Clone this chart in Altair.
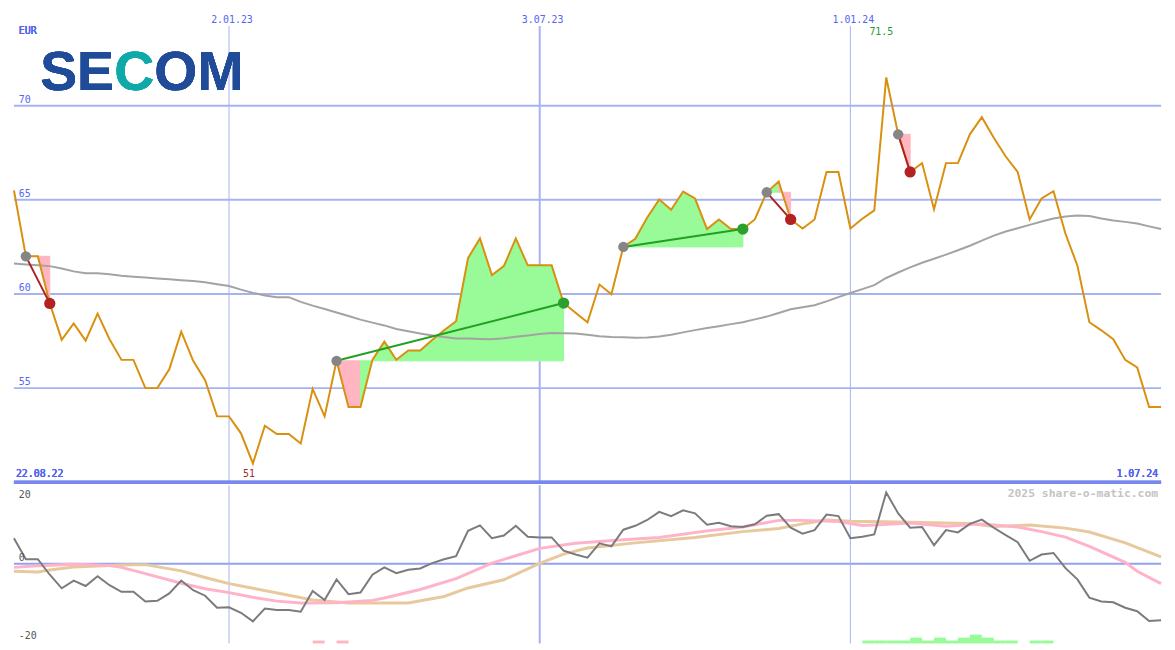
import altair as alt
import pandas as pd

# ---------------- data ----------------
START = "2022-08-29"
price = [65.5, 62.0, 62.0, 59.5, 57.56, 58.44, 57.52, 58.96, 57.6, 56.5,
         56.5, 55.0, 55.0, 56.0, 58.0, 56.45, 55.42, 53.5, 53.5, 52.6,
         51.0, 53.0, 52.56, 52.56, 52.06, 54.96, 53.5, 56.45, 54.0, 54.0,
         56.5, 57.47, 56.5, 57.0, 57.0, 57.56, 58.07, 58.55, 61.9, 62.95,
         61.0, 61.48, 62.95, 61.52, 61.52, 61.52, 59.52, 59.0, 58.5, 60.5,
         59.98, 62.5, 62.93, 64.06, 65.02, 64.47, 65.44, 65.07, 63.45, 63.96,
         63.45, 63.45, 63.96, 65.4, 65.97, 63.96, 63.48, 63.96, 66.48, 66.48,
         63.48, 64.0, 64.44, 71.5, 68.48, 66.48, 66.95, 64.5, 66.95, 66.95,
         68.48, 69.39, 68.3, 67.3, 66.48, 63.96, 65.07, 65.46, 63.2, 61.5,
         58.5, 58.07, 57.6, 56.5, 56.1, 54.0, 54.0]
ma = [61.62, 61.57, 61.53, 61.48, 61.35, 61.2, 61.1, 61.1, 61.05, 60.97,
      60.92, 60.87, 60.82, 60.78, 60.73, 60.69, 60.62, 60.52, 60.42, 60.23,
      60.06, 59.92, 59.83, 59.83, 59.58, 59.38, 59.2, 59.02, 58.83, 58.64,
      58.48, 58.33, 58.14, 58.02, 57.9, 57.8, 57.71, 57.64, 57.63, 57.61,
      57.6, 57.65, 57.73, 57.8, 57.87, 57.93, 57.92, 57.9, 57.83, 57.76,
      57.72, 57.7, 57.68, 57.69, 57.74, 57.83, 57.96, 58.08, 58.19, 58.29,
      58.4, 58.5, 58.65, 58.8, 58.99, 59.19, 59.3, 59.4, 59.61, 59.83,
      60.05, 60.26, 60.47, 60.85, 61.14, 61.41, 61.66, 61.87, 62.09, 62.32,
      62.56, 62.83, 63.1, 63.32, 63.49, 63.67, 63.85, 64.01, 64.11, 64.17,
      64.14, 64.01, 63.9, 63.83, 63.74, 63.59, 63.45]
osc = [6.6, 1.2, 1.2, -2.8, -6.3, -4.3, -5.7, -3.2, -5.5, -7.2,
       -7.2, -9.7, -9.5, -7.6, -4.3, -6.8, -8.2, -11.3, -11.2, -12.6,
       -14.8, -11.5, -11.9, -11.9, -12.3, -7.0, -9.3, -4.0, -7.8, -7.4,
       -2.8, -0.9, -2.4, -1.5, -1.2, 0.2, 1.2, 2.0, 8.5, 9.9,
       6.6, 7.3, 9.8, 7.0, 6.8, 6.8, 3.4, 2.4, 1.6, 5.3,
       4.5, 8.8, 9.8, 11.3, 13.4, 12.3, 13.8, 13.0, 10.1, 10.6,
       9.7, 9.5, 10.2, 12.4, 12.8, 9.3, 7.8, 8.7, 12.7, 12.3,
       6.6, 7.0, 7.6, 18.4, 13.0, 9.3, 9.5, 4.8, 8.7, 8.1,
       10.3, 11.4, 9.3, 7.4, 5.6, 0.8, 2.4, 2.8, -1.1, -4.0,
       -8.7, -9.7, -9.9, -11.3, -12.2, -14.7, -14.5]
pink_wk = [0, 2, 5, 8, 9, 11, 14, 16, 18, 20, 22, 24, 27, 30, 31, 34, 37, 40, 42, 44,
           47, 51, 54, 58, 61, 64, 66, 69, 71, 72, 75, 78, 81, 84, 86, 88, 90, 93, 94, 96]
pink_val = [-0.9, -0.5, -0.1, -0.4, -0.9, -2.5, -5.0, -6.4, -7.4, -8.6, -9.6, -10.1, -10.0,
            -9.4, -8.8, -6.6, -3.8, 0.2, 2.1, 4.0, 5.3, 6.2, 6.8, 8.5, 9.5, 11.2, 11.2, 10.9,
            9.9, 10.0, 10.5, 9.7, 10.3, 9.5, 8.3, 6.9, 4.5, 0.4, -1.9, -5.1]
tan_wk = [0, 2, 3, 5, 9, 11, 14, 16, 18, 20, 23, 25, 28, 33, 36, 38, 41, 44, 46, 48,
          52, 57, 61, 64, 66, 68, 70, 74, 80, 82, 85, 88, 90, 93, 96]
tan_val = [-1.9, -2.1, -1.6, -0.8, -0.3, -0.2, -1.8, -3.5, -5.1, -6.3, -8.1, -9.3, -10.1,
           -10.1, -8.4, -6.2, -4.1, 0.1, 2.5, 4.1, 5.4, 6.8, 8.3, 9.1, 10.3, 11.3, 11.0,
           10.8, 10.4, 9.6, 10.0, 9.2, 8.2, 5.4, 1.8]
entry_idx = [1, 27, 51, 63, 74]
exit_idx = [3, 46, 61, 65, 75]
bar_wk = [25, 27, 71, 72, 73, 74, 75, 76, 77, 78, 79, 80, 81, 82, 83, 85, 86]
bar_h = [0.75, 0.75, 0.75, 0.75, 0.75, 0.75, 1.5, 0.75, 1.5, 0.75, 1.5, 2.25, 1.5,
         0.75, 0.75, 0.75, 0.75]
bar_kind = ["loss", "loss"] + ["gain"] * 15
tick_dates = ["2023-01-02", "2023-07-03", "2024-01-01"]
tick_labels = ["2.01.23", "3.07.23", "1.01.24"]
tick_width = [1, 2, 1]
price_ticks = [55, 60, 65, 70]
osc_ticks_low = [0, -20]
first_label, last_label = "22.08.22", "1.07.24"

# ---------------- layout ----------------
W, H1, H2 = 1160, 476, 160
sx, syT, syB = W / 1175, H1 / 487, H2 / 163
FONT = "DejaVu Sans Mono"
BLUE = "#5566ee"
GRID = "#a6b2f2"
SEP = "#7788ee"
FILL = {"gain": "#98fb98", "loss": "#ffb6c1"}
TLINE = {"gain": "#22a022", "loss": "#a82424"}
DOT = {"gain": "#2ca02c", "loss": "#b22222"}

t0 = pd.Timestamp(START)
dstr = list(pd.date_range(START, periods=len(price), freq="7D").strftime("%Y-%m-%d"))


def wk(w):
    return (t0 + pd.Timedelta(days=7 * w)).strftime("%Y-%m-%d")


xscale = alt.Scale(domain=[alt.DateTime(year=2022, month=8, date=29, utc=True),
                           alt.DateTime(year=2024, month=7, date=1, utc=True)])


def X(f):
    return alt.X(f, type="temporal", scale=xscale, axis=None)


yT = alt.Scale(domain=[50, 75])
yB = alt.Scale(domain=[-20.5, 20.25])

df = pd.DataFrame({"date": dstr, "price": price, "ma": ma, "osc": osc})
ticks = pd.DataFrame({"date": tick_dates, "label": tick_labels, "w": tick_width})
pticks = pd.DataFrame({"v": price_ticks, "label": [str(v) for v in price_ticks]})

seg_rows, tr_rows, ent_rows, ex_rows = [], [], [], []
for t, (a, b) in enumerate(zip(entry_idx, exit_idx)):
    e = price[a]
    for j in range(a, b):
        cls = "gain" if price[j + 1] >= e else "loss"
        sid = f"{t}_{j}"
        seg_rows.append(dict(date=dstr[j], p=price[j], e=e, seg=sid, col=FILL[cls]))
        seg_rows.append(dict(date=dstr[j + 1], p=price[j + 1], e=e, seg=sid, col=FILL[cls]))
    cls = "gain" if price[b] > e else "loss"
    tr_rows.append(dict(date=dstr[a], p=e, trade=t, col=TLINE[cls]))
    tr_rows.append(dict(date=dstr[b], p=price[b], trade=t, col=TLINE[cls]))
    ent_rows.append(dict(date=dstr[a], p=e))
    ex_rows.append(dict(date=dstr[b], p=price[b], col=DOT[cls]))
segs = pd.DataFrame(seg_rows)
trades = pd.DataFrame(tr_rows)
entries = pd.DataFrame(ent_rows)
exits = pd.DataFrame(ex_rows)

imax = max(range(len(price)), key=lambda i: price[i])
imin = min(range(len(price)), key=lambda i: price[i])
mm_max = pd.DataFrame({"date": [dstr[imax]], "label": [f"{price[imax]:g}"]})
mm_min = pd.DataFrame({"date": [dstr[imin]], "label": [f"{price[imin]:g}"]})

# ---------------- top panel ----------------
hgrid = alt.Chart(pticks).mark_rule(color=GRID, strokeWidth=2).encode(
    y=alt.Y("v:Q", scale=yT, axis=None))
vgrid = alt.Chart(ticks).mark_rule(color=GRID).encode(
    x=X("date"), y=alt.value(15 * syT), y2=alt.value(H1),
    strokeWidth=alt.StrokeWidth("w:Q", scale=None, legend=None))
sep = alt.Chart(pticks).mark_rule(color=SEP, strokeWidth=3).encode(
    y=alt.value(H1), x=alt.value(0), x2=alt.value(W))
fills = alt.Chart(segs).mark_area(opacity=1, strokeWidth=1).encode(
    x=X("date"), y=alt.Y("p:Q", scale=yT, axis=None), y2="e:Q",
    detail="seg:N", color=alt.Color("col:N", scale=None),
    stroke=alt.Stroke("col:N", scale=None))
ma_line = alt.Chart(df).mark_line(color="#a3a3a3", strokeWidth=2).encode(
    x=X("date"), y=alt.Y("ma:Q", scale=yT, axis=None))
p_line = alt.Chart(df).mark_line(color="#d9900f", strokeWidth=2).encode(
    x=X("date"), y=alt.Y("price:Q", scale=yT, axis=None))
tr_lines = alt.Chart(trades).mark_line(strokeWidth=2).encode(
    x=X("date"), y=alt.Y("p:Q", scale=yT, axis=None), detail="trade:N",
    color=alt.Color("col:N", scale=None))
ent_dots = alt.Chart(entries).mark_circle(size=110, opacity=1, color="#858585").encode(
    x=X("date"), y=alt.Y("p:Q", scale=yT, axis=None))
ex_dots = alt.Chart(exits).mark_circle(size=130, opacity=1).encode(
    x=X("date"), y=alt.Y("p:Q", scale=yT, axis=None),
    color=alt.Color("col:N", scale=None))

txt = dict(font=FONT, fontSize=10)
plabels = alt.Chart(pticks).mark_text(align="left", baseline="bottom", dy=-1, color=BLUE, **txt).encode(
    x=alt.value(5 * sx), y=alt.Y("v:Q", scale=yT, axis=None), text="label:N")
dlabels = alt.Chart(ticks).mark_text(align="center", baseline="middle", dx=3, color=BLUE, **txt).encode(
    x=X("date"), y=alt.value(9 * syT), text="label:N")
eur = alt.Chart(pticks).mark_text(align="left", baseline="middle", color=BLUE, text="EUR", **txt).encode(
    x=alt.value(5 * sx), y=alt.value(20 * syT))
first_t = alt.Chart(pticks).mark_text(align="left", baseline="middle", color=BLUE, text=first_label, **txt).encode(
    x=alt.value(2), y=alt.value(478 * syT))
last_t = alt.Chart(pticks).mark_text(align="right", baseline="middle", color=BLUE, text=last_label, **txt).encode(
    x=alt.value(W - 3), y=alt.value(478 * syT))
max_t = alt.Chart(mm_max).mark_text(align="center", baseline="middle", dx=-5, color="#2a9a2a", **txt).encode(
    x=X("date"), y=alt.value(21 * syT), text="label:N")
min_t = alt.Chart(mm_min).mark_text(align="center", baseline="middle", dx=-4, color="#a52a2a", **txt).encode(
    x=X("date"), y=alt.value(478 * syT), text="label:N")

logo = dict(font="Liberation Sans", fontWeight="bold", fontSize=56, baseline="alphabetic")
logo_layers = [
    alt.Chart(pticks).mark_text(text="SE", color="#1f4b99", align="right", **logo).encode(
        x=alt.value(102.5 * sx), y=alt.value(81 * syT)),
    alt.Chart(pticks).mark_text(text="C", color="#0fa9a9", align="center", **logo).encode(
        x=alt.value(123.2 * sx), y=alt.value(81 * syT)),
    alt.Chart(pticks).mark_text(text="OM", color="#1f4b99", align="left", **logo).encode(
        x=alt.value(143.8 * sx), y=alt.value(81 * syT)),
]

top = alt.layer(hgrid, vgrid, sep, fills, ma_line, p_line, tr_lines, ent_dots, ex_dots,
                plabels, dlabels, eur, first_t, last_t, max_t, min_t, *logo_layers
                ).properties(width=W, height=H1)

# ---------------- bottom panel ----------------
pinkdf = pd.DataFrame({"date": [wk(w) for w in pink_wk], "v": pink_val})
tandf = pd.DataFrame({"date": [wk(w) for w in tan_wk], "v": tan_val})
bars = pd.DataFrame({"date": [wk(w) for w in bar_wk], "date2": [wk(w + 1) for w in bar_wk],
                     "lo": [-20.5] * len(bar_wk), "hi": [-20.5 + h for h in bar_h],
                     "col": [FILL[k] for k in bar_kind]})
zero = pd.DataFrame({"v": [0]})
olabels = pd.DataFrame({"v": osc_ticks_low, "label": [str(v) for v in osc_ticks_low]})

zline = alt.Chart(zero).mark_rule(color="#93a2f0", strokeWidth=2).encode(
    y=alt.Y("v:Q", scale=yB, axis=None))
vgrid2 = alt.Chart(ticks).mark_rule(color=GRID).encode(
    x=X("date"), strokeWidth=alt.StrokeWidth("w:Q", scale=None, legend=None))
tan_line = alt.Chart(tandf).mark_line(color="#e8c99d", strokeWidth=3).encode(
    x=X("date"), y=alt.Y("v:Q", scale=yB, axis=None))
pink_line = alt.Chart(pinkdf).mark_line(color="#ffb3c9", strokeWidth=3).encode(
    x=X("date"), y=alt.Y("v:Q", scale=yB, axis=None))
osc_line = alt.Chart(df).mark_line(color="#7b7b7b", strokeWidth=2).encode(
    x=X("date"), y=alt.Y("osc:Q", scale=yB, axis=None))
bar_marks = alt.Chart(bars).mark_rect().encode(
    x=X("date"), x2="date2", y=alt.Y("lo:Q", scale=yB, axis=None), y2="hi:Q",
    color=alt.Color("col:N", scale=None))
olab = alt.Chart(olabels).mark_text(align="left", baseline="bottom", dy=-1, color="#555555", **txt).encode(
    x=alt.value(5 * sx), y=alt.Y("v:Q", scale=yB, axis=None), text="label:N")
olab20 = alt.Chart(zero).mark_text(align="left", baseline="middle", color="#555555", text="20", **txt).encode(
    x=alt.value(5 * sx), y=alt.value(10 * syB))
credit = alt.Chart(zero).mark_text(align="right", baseline="middle", color="#c4c4c4", text="2025 share-o-matic.com",
                                   font=FONT, fontSize=11.5, fontWeight="bold").encode(
    x=alt.value(W - 3), y=alt.value(9 * syB))

bottom = alt.layer(zline, vgrid2, tan_line, pink_line, osc_line, bar_marks, olab, olab20, credit
                   ).properties(width=W, height=H2)

chart = alt.vconcat(top, bottom, spacing=0).properties(
    padding=0, background="white").configure_view(strokeWidth=0)

chart.save("out.html", embed_options={"renderer": "svg", "actions": False})
